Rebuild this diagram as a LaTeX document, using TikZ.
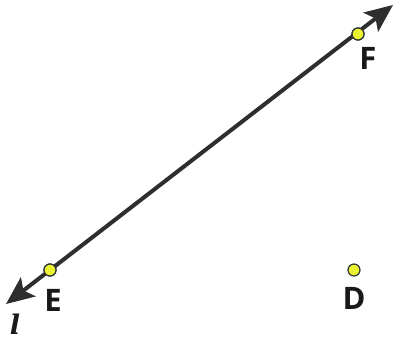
\documentclass[tikz,border=0pt]{standalone}
\usepackage{fontspec}
\setmainfont{Open Sans}
\newfontfamily\ellfont{DejaVu Serif}
\usetikzlibrary{arrows.meta}
\begin{document}
\begin{tikzpicture}[x=1pt,y=-1pt,
  pt/.style={circle,draw=black!80,line width=1.2pt,fill=yellowpt,minimum size=12pt,inner sep=0pt},
  lbl/.style={font=\fontsize{31}{31}\selectfont\bfseries,text=black!90,inner sep=0pt},
  ln/.style={line width=4pt,draw=black!82,-{Stealth[length=28pt,width=24pt,inset=6pt]}}]
\definecolor{yellowpt}{RGB}{232,244,50}
\useasboundingbox (0,0) rectangle (396,343);
\coordinate (tipA) at (393,5);
\coordinate (tipB) at (6,304);
\node[pt] (E) at (50,270) {};
\node[pt] (F) at (358,34) {};
\node[pt] (D) at (354,270) {};
\draw[ln] (E.center) -- (tipA);
\draw[ln] (E.center) -- (tipB);
\node[pt] at (E) {};
\node[pt] at (F) {};
\node[lbl] (Elab) at (53,300) {E};
\node[lbl] (Flab) at (368,58) {F};
\node[lbl] (Dlab) at (354,298) {D};
\node[font=\ellfont\fontsize{27}{27}\selectfont\bfseries\itshape,inner sep=0pt,text=black!90,anchor=base] (ell) at (15,334) {l};
\end{tikzpicture}
\end{document}
